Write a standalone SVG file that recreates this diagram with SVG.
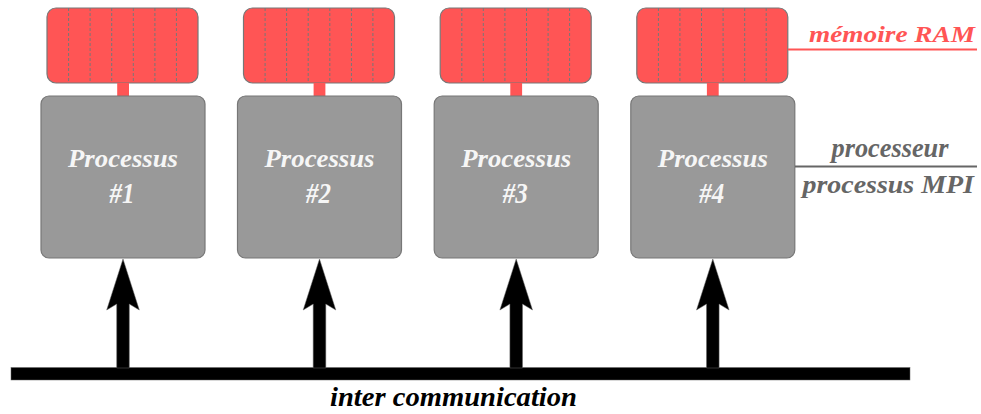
<svg xmlns="http://www.w3.org/2000/svg" width="981" height="414" viewBox="0 0 981 414">
<defs>
<style>
.ram{fill:#ff5555;stroke:#777;stroke-width:1.2}
.cell{stroke:#777;stroke-width:1;stroke-dasharray:3,2}
.link{fill:#ff5555}
.box{fill:#999;stroke:#777;stroke-width:1.2}
.arrow{fill:#000;stroke:#666;stroke-width:0.5}
</style>
<g id="ramcells">
<line class="cell" x1="21.6" y1="0" x2="21.6" y2="75"/>
<line class="cell" x1="43.1" y1="0" x2="43.1" y2="75"/>
<line class="cell" x1="64.7" y1="0" x2="64.7" y2="75"/>
<line class="cell" x1="86.3" y1="0" x2="86.3" y2="75"/>
<line class="cell" x1="107.9" y1="0" x2="107.9" y2="75"/>
<line class="cell" x1="129.4" y1="0" x2="129.4" y2="75"/>
</g>
</defs>
<rect width="981" height="414" fill="#fff"/>

<g id="connectors">
<rect class="arrow" x="11" y="367.5" width="899" height="12.5"/>
<path class="arrow" d="M123,259 L139.3,310 L129.3,304 L129.3,368 L116.7,368 L116.7,304 L106.7,310 Z"/>
<path class="arrow" d="M319.5,259 L335.8,310 L325.8,304 L325.8,368 L313.2,368 L313.2,304 L303.2,310 Z"/>
<path class="arrow" d="M516.2,259 L532.5,310 L522.5,304 L522.5,368 L509.9,368 L509.9,304 L499.9,310 Z"/>
<path class="arrow" d="M712.8,259 L729.1,310 L719.1,304 L719.1,368 L706.5,368 L706.5,304 L696.5,310 Z"/>
</g>

<g font-family="Liberation Serif, serif" font-style="italic" font-weight="bold">
<g id="node1">
<rect class="ram" x="47" y="8" width="151" height="75" rx="9"/>
<use href="#ramcells" x="47" y="8"/>
<rect class="link" x="117.2" y="83" width="11.8" height="13"/>
<rect class="box" x="41" y="96" width="164" height="162" rx="8"/>
<g fill="#f6f6f6" text-anchor="middle">
<text x="123" y="167" font-size="25.5" textLength="110" lengthAdjust="spacingAndGlyphs">Processus</text>
<text x="122" y="202.5" font-size="30" textLength="25" lengthAdjust="spacingAndGlyphs">#1</text>
</g>
</g>

<g id="node2">
<rect class="ram" x="243.5" y="8" width="151" height="75" rx="9"/>
<use href="#ramcells" x="243.5" y="8"/>
<rect class="link" x="313.6" y="83" width="11.8" height="13"/>
<rect class="box" x="237.5" y="96" width="164" height="162" rx="8"/>
<g fill="#f6f6f6" text-anchor="middle">
<text x="319.5" y="167" font-size="25.5" textLength="110" lengthAdjust="spacingAndGlyphs">Processus</text>
<text x="318.5" y="202.5" font-size="30" textLength="25" lengthAdjust="spacingAndGlyphs">#2</text>
</g>
</g>

<g id="node3">
<rect class="ram" x="440.2" y="8" width="151" height="75" rx="9"/>
<use href="#ramcells" x="440.2" y="8"/>
<rect class="link" x="510.3" y="83" width="11.8" height="13"/>
<rect class="box" x="434.2" y="96" width="164" height="162" rx="8"/>
<g fill="#f6f6f6" text-anchor="middle">
<text x="516.2" y="167" font-size="25.5" textLength="110" lengthAdjust="spacingAndGlyphs">Processus</text>
<text x="515.2" y="202.5" font-size="30" textLength="25" lengthAdjust="spacingAndGlyphs">#3</text>
</g>
</g>

<g id="node4">
<rect class="ram" x="636.8" y="8" width="151" height="75" rx="9"/>
<use href="#ramcells" x="636.8" y="8"/>
<rect class="link" x="706.9" y="83" width="11.8" height="13"/>
<rect class="box" x="630.8" y="96" width="164" height="162" rx="8"/>
<g fill="#f6f6f6" text-anchor="middle">
<text x="712.8" y="167" font-size="25.5" textLength="110" lengthAdjust="spacingAndGlyphs">Processus</text>
<text x="711.8" y="202.5" font-size="30" textLength="25" lengthAdjust="spacingAndGlyphs">#4</text>
</g>
</g>

<g id="legend-ram">
<line x1="788" y1="49.5" x2="977" y2="49.5" stroke="#ff5555" stroke-width="2"/>
<text x="809" y="42" font-size="24" fill="#ff5555" textLength="166" lengthAdjust="spacingAndGlyphs">mémoire RAM</text>
</g>

<g id="legend-proc">
<line x1="795" y1="166.5" x2="977" y2="166.5" stroke="#666" stroke-width="2"/>
<text x="831.5" y="156.5" font-size="27" fill="#666" textLength="117" lengthAdjust="spacingAndGlyphs">processeur</text>
<text x="802.5" y="192.5" font-size="25" fill="#666" textLength="171.5" lengthAdjust="spacingAndGlyphs">processus MPI</text>
</g>

<g id="label-bus">
<text x="330" y="406" font-size="28" fill="#000" textLength="247" lengthAdjust="spacingAndGlyphs">inter communication</text>
</g>
</g>
</svg>
